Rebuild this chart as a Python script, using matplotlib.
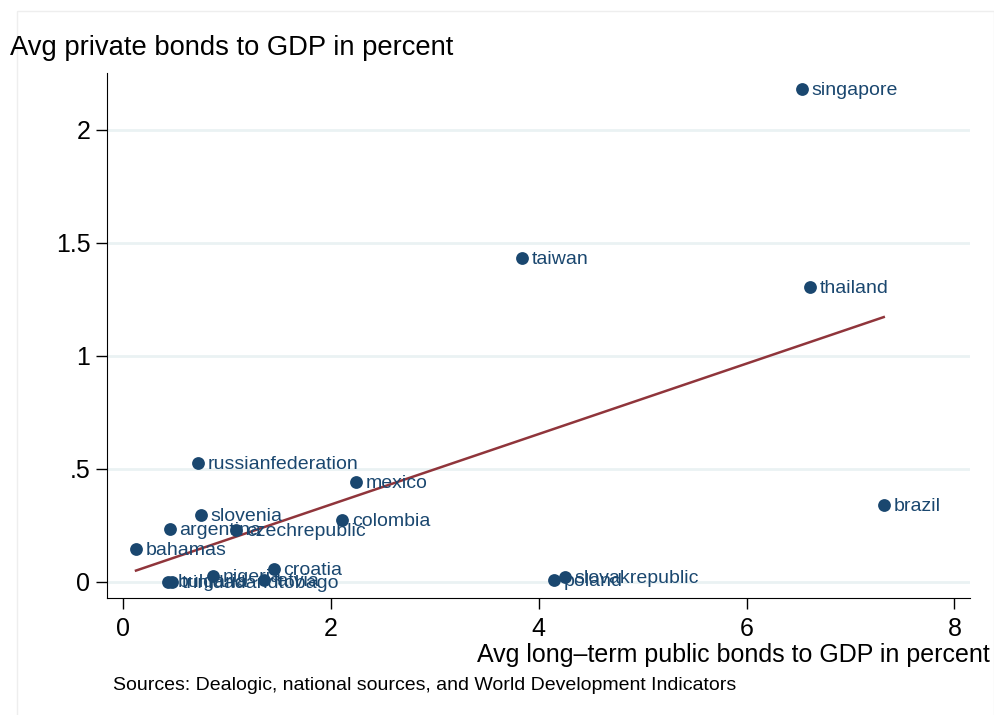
import numpy as np
import matplotlib.pyplot as plt
from matplotlib import font_manager

# average bond market size by country, 1990s-2000s
countries = ["singapore", "taiwan", "thailand", "brazil", "russianfederation",
             "mexico", "slovenia", "argentina", "czechrepublic", "colombia",
             "bahamas", "croatia", "nigeria", "latvia", "bulgaria",
             "trinidadandtobago", "slovakrepublic", "poland"]
public_bonds = [6.53, 3.84, 6.61, 7.32, 0.72,
                2.24, 0.75, 0.45, 1.09, 2.11,
                0.125, 1.45, 0.87, 1.36, 0.43,
                0.47, 4.25, 4.15]
private_bonds = [2.18, 1.434, 1.305, 0.341, 0.527,
                 0.442, 0.296, 0.235, 0.23, 0.274,
                 0.146, 0.058, 0.025, 0.009, 0.002,
                 0.0, 0.02, 0.01]

xticks = [0, 2, 4, 6, 8]
yticks = [0, 0.5, 1, 1.5, 2]
ytick_labels = ["0", ".5", "1", "1.5", "2"]

names = [f.name for f in font_manager.fontManager.ttflist]
narrow = "Liberation Sans Narrow" if "Liberation Sans Narrow" in names else "Liberation Sans"
plt.rcParams['font.family'] = ['Liberation Sans', 'DejaVu Sans']

navy = "#1a476f"
maroon = "#90353b"

fig = plt.figure(figsize=(9.95, 7.15), dpi=100)
# light outer frame (open at the bottom)
fig.patches.append(plt.Rectangle((17/995, -0.05), (994-17)/995, 1.05 - 11/715,
                                 transform=fig.transFigure, fill=False,
                                 edgecolor="#eeeeee", linewidth=1))
ax = fig.add_axes([107/995, 1-598/715, (970-107)/995, (598-73)/715])

x = np.array(public_bonds)
y = np.array(private_bonds)

ax.scatter(x, y, s=85, color=navy, zorder=3, linewidths=0)
for name, xi, yi in zip(countries, x, y):
    ax.annotate(name, (xi, yi), xytext=(7, -1), textcoords="offset points",
                va="center", ha="left", fontsize=14, color=navy, zorder=4)

# linear fit over the observed range
b, a = np.polyfit(x, y, 1)
xf = np.array([x.min(), x.max()])
ax.plot(xf, a + b * xf, color=maroon, linewidth=1.8, zorder=2)

ax.set_xlim(-0.154, 8.15)
ax.set_ylim(-0.071, 2.252)
ax.set_xticks(xticks)
ax.set_xticklabels([str(t) for t in xticks], fontsize=18, fontfamily=narrow)
ax.set_yticks(yticks)
ax.set_yticklabels(ytick_labels, fontsize=18)
ax.tick_params(axis="both", direction="out", length=8, width=1, color="black")
ax.tick_params(axis="x", pad=6)
ax.tick_params(axis="y", pad=4)
ax.grid(axis="y", color="#eaf2f3", linewidth=2)
ax.set_axisbelow(True)
for side in ["top", "right"]:
    ax.spines[side].set_visible(False)

fig.text(10/995, 1-48/715, "Avg private bonds to GDP in percent", fontsize=19.7,
         ha="left", va="center")
fig.text(990/995, 1-655/715, "Avg long\u2013term public bonds to GDP in percent",
         fontsize=18, fontfamily=narrow, ha="right", va="center")
fig.text(113/995, 1-685/715, "Sources: Dealogic, national sources, and World Development Indicators",
         fontsize=14, fontfamily=narrow, ha="left", va="center")

fig.savefig("out.png", dpi=100)
